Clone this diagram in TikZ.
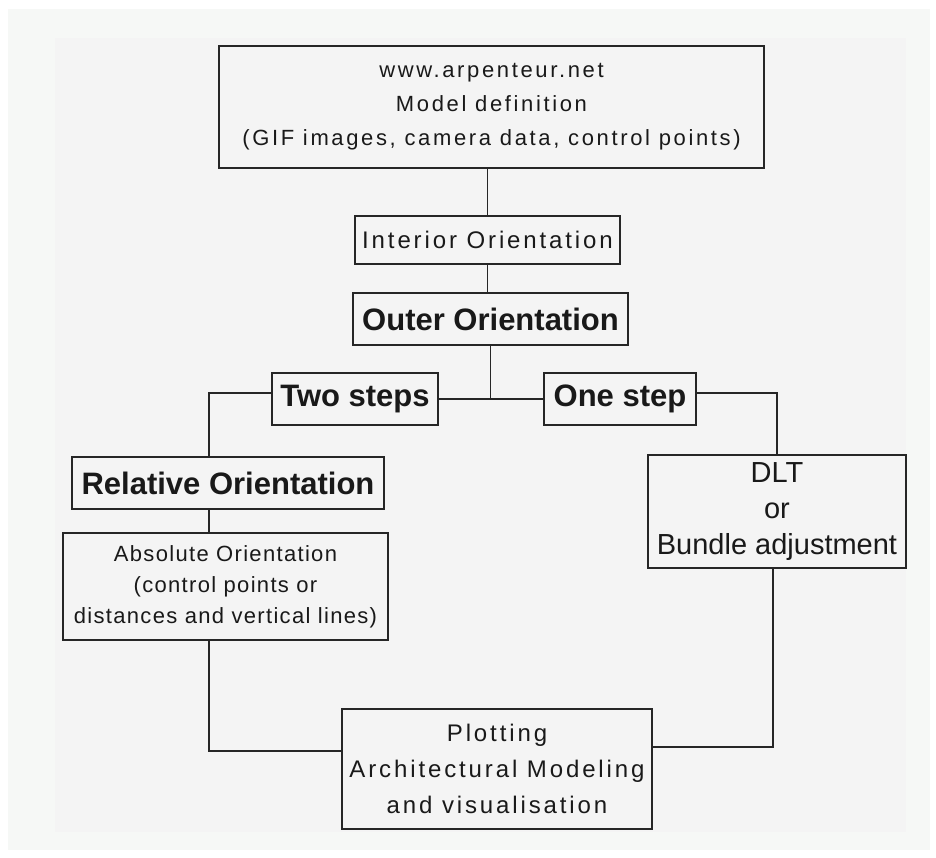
\documentclass[tikz,border=0pt]{standalone}
\usepackage{fontspec}
\setmainfont{Liberation Sans}
\definecolor{sfondo}{HTML}{F4F4F4}
\definecolor{cornice}{HTML}{F6F8F6}
\begin{document}
\begin{tikzpicture}[x=1pt,y=-1pt,
    box/.style={draw=black!85, line width=1.4pt, fill=sfondo, align=center,
      inner sep=0pt, text=black!90},
    testo/.style={font=\fontsize{24}{36}\selectfont\addfontfeature{LetterSpace=12}},
    grassetto/.style={font=\fontsize{31}{36}\selectfont\bfseries},
    linea/.style={draw=black!85, line width=1.4pt}]
  % Sfondo
  \fill[white] (0,0) rectangle (936,857);
  \fill[cornice] (8,9) rectangle (930,850);
  \fill[sfondo] (55,38) rectangle (906,832);

  % Nodi
  \node[box, testo, font=\fontsize{22}{34}\selectfont\addfontfeature{LetterSpace=12},
    minimum width=545pt, minimum height=122pt] (top) at (491.5,107)
    {www.arpenteur.net\\Model definition\\(GIF images, camera data, control points)};
  \node[box, testo, minimum width=265pt, minimum height=48pt] (interior) at (487.5,240)
    {Interior Orientation};
  \node[box, grassetto, minimum width=275pt, minimum height=52pt] (outer) at (490.5,319)
    {Outer Orientation};
  \node[box, grassetto, minimum width=166pt, minimum height=52pt] (two) at (355,399)
    {Two steps};
  \node[box, grassetto, minimum width=152pt, minimum height=52pt] (one) at (620,399)
    {One step};
  \node[box, grassetto, minimum width=312pt, minimum height=52pt] (relative) at (228,483)
    {Relative Orientation};
  \node[box, font=\fontsize{22}{31}\selectfont\addfontfeature{LetterSpace=6},
    minimum width=325pt, minimum height=107pt] (absolute) at (225.5,586.5)
    {Absolute Orientation\\(control points or\\distances and vertical lines)};
  \node[box, font=\fontsize{29}{36}\selectfont,
    minimum width=258pt, minimum height=113pt] (dlt) at (777,511.5)
    {DLT\\or\\Bundle adjustment};
  \node[box, testo, minimum width=310pt, minimum height=120pt] (plot) at (497,769)
    {Plotting\\Architectural Modeling\\and visualisation};
  \coordinate (lx) at (209,0);

  % Collegamenti
  \draw[linea] (interior.north |- top.south) -- (interior.north);
  \draw[linea] (interior.south) -- (interior.south |- outer.north);
  \draw[linea] (outer.south) -- (outer.south |- two.east);
  \draw[linea] (two.east) -- (one.west);
  \draw[linea] ([yshift=6pt]two.west) -| (lx |- relative.north);
  \draw[linea] (lx |- relative.south) -- (lx |- absolute.north);
  \draw[linea] (lx |- absolute.south) |- ([yshift=18pt]plot.west);
  \draw[linea] ([yshift=6pt]one.east) -| (dlt.north);
  \draw[linea] ([xshift=-4pt]dlt.south) |- ([yshift=22pt]plot.east);
\end{tikzpicture}
\end{document}
